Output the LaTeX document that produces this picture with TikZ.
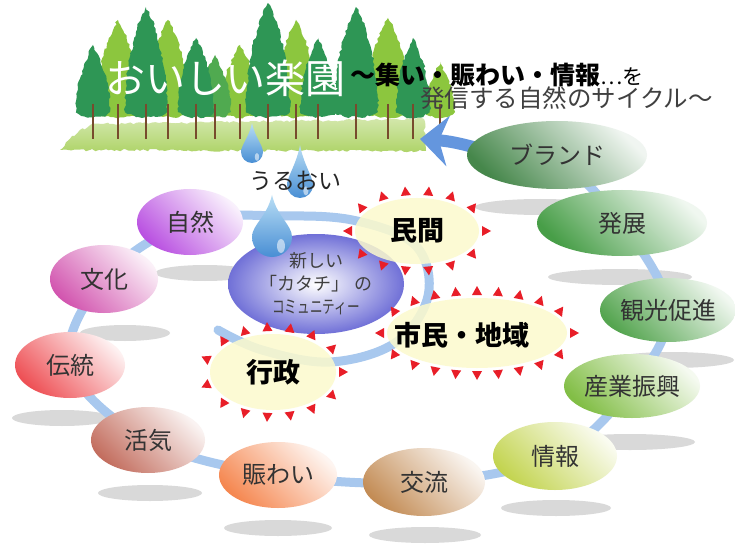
\documentclass[tikz,border=0pt]{standalone}
\usepackage{fontspec}
\newfontfamily\jp{Noto Sans CJK JP}
\usetikzlibrary{shapes.geometric,decorations.markings,decorations.pathmorphing,arrows.meta,shadings}

% palette
\definecolor{flow}{RGB}{168,200,238}
\definecolor{arrowblue}{RGB}{100,150,222}
\definecolor{cream}{RGB}{252,250,205}
\definecolor{spikered}{RGB}{232,30,40}
\definecolor{treeDark}{RGB}{46,150,85}
\definecolor{treeMid}{RGB}{80,170,80}
\definecolor{treeLight}{RGB}{140,198,62}
\definecolor{trunk}{RGB}{120,75,45}
\definecolor{grass}{RGB}{175,212,105}
\definecolor{commBlue}{RGB}{112,112,215}
\definecolor{cBrand}{RGB}{70,135,75}
\definecolor{cHatten}{RGB}{72,158,72}
\definecolor{cKanko}{RGB}{85,165,80}
\definecolor{cSangyo}{RGB}{130,190,70}
\definecolor{cJoho}{RGB}{195,212,80}
\definecolor{cKoryu}{RGB}{195,140,85}
\definecolor{cNigiwai}{RGB}{245,135,80}
\definecolor{cKakki}{RGB}{195,110,95}
\definecolor{cDento}{RGB}{238,80,85}
\definecolor{cBunka}{RGB}{210,85,175}
\definecolor{cShizen}{RGB}{185,80,225}
\definecolor{dropLight}{RGB}{185,222,245}
\definecolor{dropDark}{RGB}{72,142,212}

\tikzset{
  bubble/.style={ellipse, inner sep=0pt, text=black!80,
    font=\jp\fontsize{24}{28}\selectfont,
    top color=#1!8!white, middle color=#1!60!white, bottom color=#1, shading angle=-45},
  floor/.style={fill=black!15},
  cycleline/.style={draw=flow, line width=9pt, line cap=round},
  arrowflow/.style={draw=arrowblue, line width=12pt,
    -{Stealth[length=28pt,width=50pt,inset=9pt]}},
  starbox/.style={ellipse, inner sep=0pt, fill=cream, fill opacity=.85, text opacity=1,
    font=\jp\bfseries\fontsize{27}{30}\selectfont, text=black},
  actorlabel/.style={font=\jp\bfseries\fontsize{27}{30}\selectfont, text=black},
  spikes/.style={postaction={decorate, decoration={markings,
    mark=between positions 0 and 0.97 step #1 with
      {\fill[spikered, fill opacity=1] (-5pt,-3pt) -- (5pt,-3pt) -- (0,-12pt) -- cycle;}}}},
  jagged/.style={decorate, decoration={random steps, segment length=3pt, amplitude=1.2pt}},
  dropshade/.style={top color=dropLight, bottom color=dropDark},
}

% water drop: centre x, tip y, bottom y, radius
\newcommand\waterdrop[4]{%
  \shade[dropshade] (#1,#2)
    .. controls ({#1+0.25*#4},{#2+0.35*(#3-#2)}) and ({#1+#4},{#3-1.6*#4}) .. ({#1+#4},{#3-#4})
    arc[start angle=0, end angle=180, radius=#4]
    .. controls ({#1-#4},{#3-1.6*#4}) and ({#1-0.25*#4},{#2+0.35*(#3-#2)}) .. (#1,#2) -- cycle;
  \fill[white, opacity=.55] ({#1+0.45*#4},{#3-0.55*#4}) ellipse[x radius={0.2*#4}, y radius={0.35*#4}];
}

\begin{document}
\begin{tikzpicture}[x=1pt,y=-1pt]
\useasboundingbox (0,0) rectangle (735,545);
\fill[white] (0,0) rectangle (735,545);

% ---- forest ----
\shade[top color=grass!55!white, bottom color=grass, jagged]
  (60,150) -- (72,136) -- (92,124) -- (424,119) -- (426,151) -- cycle;
\foreach \x/\t/\w/\c in {118/20/22/treeLight, 168/20/21/treeLight, 240/45/20/treeLight,
    296/20/21/treeLight, 388/18/22/treeLight, 440/62/15/treeLight, 215/55/16/treeMid,
    93/45/17/treeDark, 146/7/21/treeDark, 196/38/18/treeDark, 268/3/22/treeDark,
    318/38/18/treeDark, 356/7/22/treeDark, 413/38/17/treeDark}
  \fill[\c, jagged] ({\x-\w},112)
     .. controls ({\x-\w},{\t+0.5*(112-\t)}) and ({\x-0.35*\w},{\t+12}) .. (\x,\t)
     .. controls ({\x+0.35*\w},{\t+12}) and ({\x+\w},{\t+0.5*(112-\t)}) .. ({\x+\w},112)
     .. controls ({\x+0.6*\w},119) and ({\x-0.6*\w},119) .. cycle;
\foreach \x in {93,118,146,168,196,215,240,268,296,318,356,388,413,440}
  \draw[trunk, line width=2pt] (\x,104) -- (\x,139);

% ---- title ----
\node[font=\jp\fontsize{40}{44}\selectfont, text=white] (title) at (225,78) {おいしい楽園};
\node[anchor=west, inner sep=0pt, font=\jp\bfseries\fontsize{25}{28}\selectfont] (sub1) at (350,75)
  {～集い・賑わい・情報{\mdseries\fontsize{21}{24}\selectfont ⋯を}};
\node[anchor=west, inner sep=0pt, font=\jp\fontsize{24.5}{28}\selectfont, text=black!75] (sub2) at (420,98)
  {発信する自然のサイクル～};

% ---- floor shadows ----
\foreach \x/\y/\r in {540/207/65, 620/277/72, 672/360/62, 630/442/65, 556/508/55,
    425/535/56, 278/528/54, 150/493/52, 62/418/50, 125/333/45, 205/273/50}
  \fill[floor] (\x,\y) ellipse[x radius=\r, y radius=8];

% ---- positions of the cycle ----
\coordinate (c-shizen) at (190,222);
\coordinate (c-bunka) at (104,279);
\coordinate (c-dento) at (70,365);
\coordinate (c-kakki) at (148,440);
\coordinate (c-nigiwai) at (278,475);
\coordinate (c-koryu) at (424,482);
\coordinate (c-joho) at (555,456);
\coordinate (c-sangyo) at (632,386);
\coordinate (c-kanko) at (668,310);
\coordinate (c-hatten) at (622,223);
\coordinate (c-brand) at (557,155);
\coordinate (tip) at (420,139);
\coordinate (r1) at (218,330);
\coordinate (r2) at (262,350);
\coordinate (r3) at (330,362);
\coordinate (r4) at (395,343);
\coordinate (r5) at (428,296);
\coordinate (r6) at (416,246);
\coordinate (r7) at (357,221);
\coordinate (r8) at (285,216);

% spiral band
\draw[cycleline] plot[smooth, tension=0.6] coordinates {(r1) (r2) (r3) (r4) (r5) (r6) (r7) (r8)
  (c-shizen) (c-bunka) (c-dento) (c-kakki) (c-nigiwai) (c-koryu) (c-joho)
  (c-sangyo) (c-kanko) (c-hatten) (c-brand)};
\draw[arrowflow] (c-brand) to[out=188, in=-4] (tip);

% centre
\node[ellipse, inner sep=0pt, minimum width=176pt, minimum height=100pt,
  inner color=white, outer color=commBlue, align=center, text=black!75,
  font=\jp\fontsize{18}{23}\selectfont] (comm) at (316,284)
  {新しい\\「カタチ」 の\\\scalebox{0.7}[1]{コミュニティー}};

% cycle bubbles
\node[bubble=cBrand, minimum width=180pt, minimum height=68pt] (brand) at (c-brand) {ブランド};
\node[bubble=cHatten, minimum width=170pt, minimum height=66pt] (hatten) at (c-hatten) {発展};
\node[bubble=cKanko, minimum width=136pt, minimum height=64pt] (kanko) at (c-kanko) {観光促進};
\node[bubble=cSangyo, minimum width=136pt, minimum height=64pt] (sangyo) at (c-sangyo) {産業振興};
\node[bubble=cJoho, minimum width=124pt, minimum height=68pt] (joho) at (c-joho) {情報};
\node[bubble=cKoryu, minimum width=122pt, minimum height=68pt] (koryu) at (c-koryu) {交流};
\node[bubble=cNigiwai, minimum width=118pt, minimum height=66pt] (nigiwai) at (c-nigiwai) {賑わい};
\node[bubble=cKakki, minimum width=114pt, minimum height=66pt] (kakki) at (c-kakki) {活気};
\node[bubble=cDento, minimum width=110pt, minimum height=66pt] (dento) at (c-dento) {伝統};
\node[bubble=cBunka, minimum width=108pt, minimum height=68pt] (bunka) at (c-bunka) {文化};
\node[bubble=cShizen, minimum width=106pt, minimum height=66pt] (shizen) at (c-shizen) {自然};

% actors
\node[starbox, minimum width=124pt, minimum height=66pt, spikes=0.0714286] (minkan) at (417,231) {民間};
\node[starbox, minimum width=180pt, minimum height=70pt, spikes=0.05] (shimin) at (477,333) {};
\node[actorlabel] (shiminlabel) at (462,335) {市民・地域};
\node[starbox, minimum width=126pt, minimum height=76pt, spikes=0.0666667] (gyosei) at (273,372) {行政};

% water drops
\waterdrop{252}{123}{163}{11}
\waterdrop{300}{145}{198}{13}
\waterdrop{272}{195}{257}{20}
\node[font=\jp\fontsize{23}{26}\selectfont, text=black!85] (uruoi) at (295,181) {うるおい};
\end{tikzpicture}
\end{document}
